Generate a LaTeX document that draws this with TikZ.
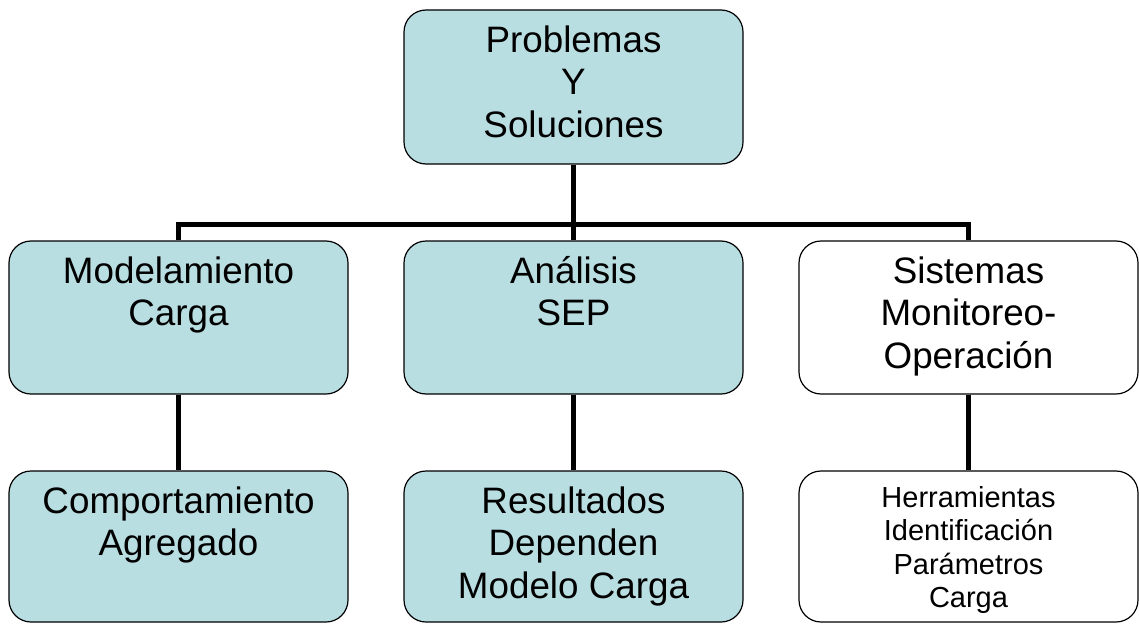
\documentclass[tikz,border=0pt]{standalone}
\usepackage{fontspec}
\setmainfont{Liberation Sans}
\usetikzlibrary{positioning}
\definecolor{boxblue}{RGB}{185,222,226}
\begin{document}
\begin{tikzpicture}[x=1pt,y=-1pt]
		\tikzstyle{every node}+=[inner sep=0pt]
		\tikzstyle{box}=[draw=black,line width=1.2pt,rounded corners=22pt,minimum width=339pt,minimum height=153pt,fill=boxblue]
		\tikzstyle{whitebox}=[box,fill=white]
		\tikzstyle{txt}=[align=center,font=\fontsize{36.8}{42.5}\selectfont]
		\tikzstyle{smalltxt}=[align=center,font=\fontsize{29}{33.3}\selectfont]
		\tikzstyle{conn}=[line width=5pt,black]
		\useasboundingbox (0,0) rectangle (1139,623);
		\node [box,minimum height=154pt] (prob) at (573.5,87) {};
		\node [box] (mod) at (178.5,317.5) {};
		\node [box] (ana) at (573.5,317.5) {};
		\node [whitebox] (sis) at (968.5,317.5) {};
		\node [box,minimum height=151pt] (comp) at (178.5,546.5) {};
		\node [box,minimum height=151pt] (res) at (573.5,546.5) {};
		\node [whitebox,minimum height=151pt] (herr) at (968.5,546.5) {};
		\node [txt,below=16pt of prob.north] (probtxt) {Problemas\\Y\\Soluciones};
		\node [txt,below=16pt of mod.north] (modtxt) {Modelamiento\\Carga};
		\node [txt,below=15.5pt of ana.north] (anatxt) {Análisis\\SEP};
		\node [txt,below=16pt of sis.north] (sistxt) {Sistemas\\Monitoreo-\\Operación};
		\node [txt,below=16pt of comp.north] (comptxt) {Comportamiento\\Agregado};
		\node [txt,below=16pt of res.north] (restxt) {Resultados\\Dependen\\Modelo Carga};
		\node [smalltxt,below=16pt of herr.north] (herrtxt) {Herramientas\\Identificación\\Parámetros\\Carga};
		\coordinate (bar) at (573.5,224.5);
		\draw [conn] (prob.south) -- (bar);
		\draw [conn] (mod.north) |- (bar) -| (sis.north);
		\draw [conn] (bar) -- (ana.north);
		\draw [conn] (mod.south) -- (comp.north);
		\draw [conn] (ana.south) -- (res.north);
		\draw [conn] (sis.south) -- (herr.north);
	\end{tikzpicture}
\end{document}
